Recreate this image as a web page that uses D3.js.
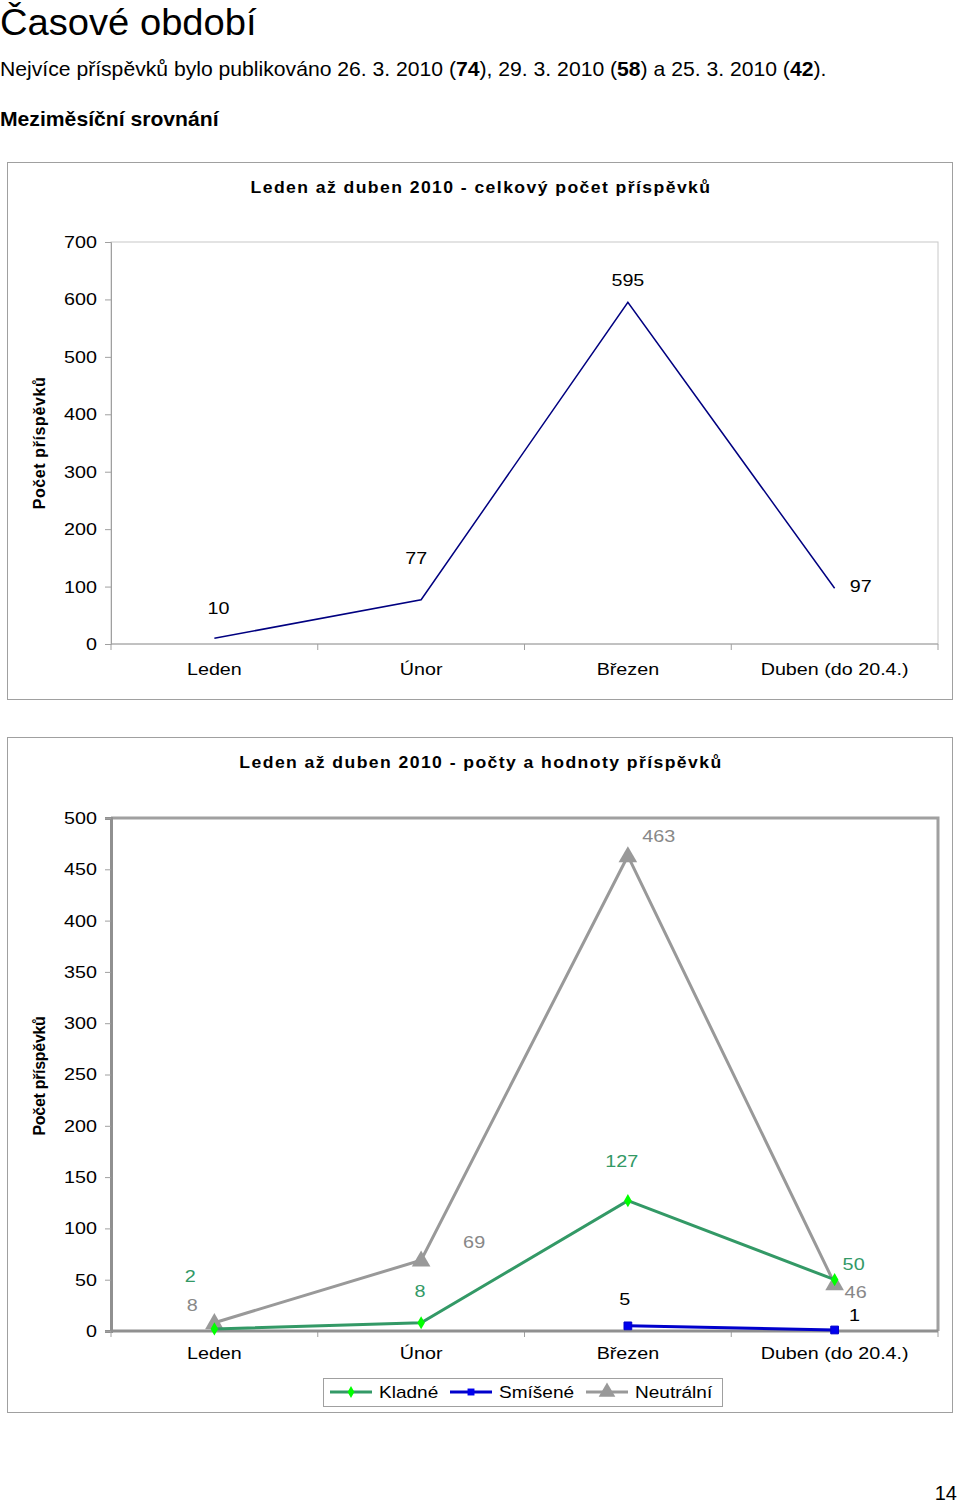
<!DOCTYPE html>
<html>
<head>
<meta charset="utf-8">
<script src="https://cdn.jsdelivr.net/npm/d3@7"></script>
<style>
  body { margin: 0; background: #fff; font-family: Arial, "Liberation Sans", sans-serif; }
  svg text { font-family: Arial, "Liberation Sans", sans-serif; }
</style>
</head>
<body>
<svg id="page" width="960" height="1505"></svg>
<script>
'use strict';

// data
var months = ['Leden', 'Únor', 'Březen', 'Duben (do 20.4.)'];
var total = [10, 77, 595, 97];
var kladne = [2, 8, 127, 50];
var smisene = [null, null, 5, 1];
var neutralni = [8, 69, 463, 46];
var ticks1 = [0, 100, 200, 300, 400, 500, 600, 700];
var ticks2 = [0, 50, 100, 150, 200, 250, 300, 350, 400, 450, 500];

var svg = d3.select('#page');
var sx = 1.16; // chart text in the original is stretched sideways

// page text
svg.append('text').attr('transform', 'scale(1.06,1)').attr('x', 0).attr('y', 35)
  .attr('font-size', 36).text('Časové období');

var intro = svg.append('text').attr('transform', 'scale(1.08,1)')
  .attr('x', 0).attr('y', 76).attr('font-size', 19.6);
[['Nejvíce příspěvků bylo publikováno 26. 3. 2010 (', false], ['74', true], ['), 29. 3. 2010 (', false],
 ['58', true], [') a 25. 3. 2010 (', false], ['42', true], [').', false]].forEach(function(p) {
  intro.append('tspan').attr('font-weight', p[1] ? 'bold' : 'normal').text(p[0]);
});

svg.append('text').attr('transform', 'scale(1.08,1)').attr('x', 0).attr('y', 126)
  .attr('font-size', 19.6).attr('font-weight', 'bold').text('Meziměsíční srovnání');

svg.append('text').attr('x', 957).attr('y', 1500).attr('font-size', 20)
  .attr('text-anchor', 'end').text('14');

function frame(top, bottom) {
  svg.append('rect').attr('x', 7.5).attr('y', top + 0.5)
    .attr('width', 945).attr('height', bottom - top)
    .attr('fill', 'none').attr('stroke', '#a0a0a0').attr('stroke-width', 1);
}

function yTitle(cy, spacing) {
  svg.append('text')
    .attr('transform', 'translate(45,' + cy + ') rotate(-90)')
    .attr('text-anchor', 'middle').attr('font-size', 16).attr('font-weight', 'bold')
    .attr('letter-spacing', spacing)
    .text('Počet příspěvků');
}

function chartTitle(y, txt) {
  svg.append('text').attr('transform', 'translate(481,' + y + ') scale(1.1,1)')
    .attr('text-anchor', 'middle').attr('font-size', 16).attr('font-weight', 'bold')
    .attr('letter-spacing', 1.3).text(txt);
}

function setupAxes(g, x, y, h, ticks, axisColor, axisWidth, catPad) {
  var ya = g.append('g').call(d3.axisLeft(y).tickValues(ticks).tickSize(6).tickPadding(8));
  ya.select('.domain').attr('stroke', axisColor).attr('stroke-width', axisWidth);
  ya.selectAll('.tick line').attr('stroke', '#a0a0a0');
  ya.selectAll('.tick text').attr('font-size', 17).attr('fill', '#000')
    .attr('x', -14 / sx).attr('transform', 'scale(' + sx + ',1)')
    .attr('font-family', 'Arial, "Liberation Sans", sans-serif');

  var xa = g.append('g').attr('transform', 'translate(0,' + h + ')')
    .call(d3.axisBottom(x).tickSize(0).tickPadding(catPad));
  xa.select('.domain').remove();
  xa.selectAll('.tick text').attr('font-size', 17).attr('fill', '#000')
    .attr('transform', 'scale(' + sx + ',1)')
    .attr('font-family', 'Arial, "Liberation Sans", sans-serif');

  // category separators
  var edges = x.domain().map(function(d) { return x(d); });
  edges.push(x.range()[1]);
  g.selectAll('.sep').data(edges).enter().append('line')
    .attr('x1', function(d) { return d; }).attr('x2', function(d) { return d; })
    .attr('y1', h).attr('y2', h + 6).attr('stroke', '#a0a0a0');
  g.append('line').attr('x1', 0).attr('x2', x.range()[1]).attr('y1', h).attr('y2', h)
    .attr('stroke', axisColor).attr('stroke-width', axisWidth);
}

// ---------- chart 1 ----------
frame(162, 699);
chartTitle(193, 'Leden až duben 2010 - celkový počet příspěvků');
yTitle(443, 0.6);

var w = 827, h1 = 402;
var g1 = svg.append('g').attr('transform', 'translate(111,242)');
var x1 = d3.scaleBand().domain(months).range([0, w]);
var y1 = d3.scaleLinear().domain([0, 700]).range([h1, 0]);

g1.append('rect').attr('width', w).attr('height', h1)
  .attr('fill', 'none').attr('stroke', '#c8c8c8');
setupAxes(g1, x1, y1, h1, ticks1, '#a0a0a0', 1, 19);

var cx1 = function(d, i) { return x1(months[i]) + x1.bandwidth() / 2; };
g1.append('path').datum(total)
  .attr('fill', 'none').attr('stroke', '#000080').attr('stroke-width', 1.5)
  .attr('d', d3.line().x(cx1).y(function(d) { return y1(d); }));

var lab1 = [[4, -24], [-5, -36], [0, -16], [26, 4]];
g1.selectAll('.lab').data(total).enter().append('text')
  .attr('transform', function(d, i) {
    return 'translate(' + (cx1(d, i) + lab1[i][0]) + ',' + (y1(d) + lab1[i][1]) + ') scale(' + sx + ',1)';
  })
  .attr('text-anchor', 'middle').attr('font-size', 17)
  .text(function(d) { return d; });

// ---------- chart 2 ----------
frame(737, 1412);
chartTitle(768, 'Leden až duben 2010 - počty a hodnoty příspěvků');
yTitle(1076, -0.3);

var h2 = 513;
var g2 = svg.append('g').attr('transform', 'translate(111,818)');
var x2 = d3.scaleBand().domain(months).range([0, w]);
var y2 = d3.scaleLinear().domain([0, 500]).range([h2, 0]);

g2.append('path').attr('d', 'M0,0H' + w + 'V' + h2)
  .attr('fill', 'none').attr('stroke', '#a0a0a0').attr('stroke-width', 3);
setupAxes(g2, x2, y2, h2, ticks2, '#909090', 3, 16);

var cx2 = function(i) { return x2(months[i]) + x2.bandwidth() / 2; };

var series = [
  {name: 'Kladné', values: kladne, line: '#339966', marker: '#00ff00', shape: d3.symbolDiamond, size: 50, lab: '#339966',
   off: [[-24, -47], [-1, -26], [-6, -34], [19, -10]]},
  {name: 'Smíšené', values: smisene, line: '#0000cc', marker: '#0000ee', shape: d3.symbolSquare, size: 60, lab: '#000',
   off: [null, null, [-3, -21], [20, -9]]},
  {name: 'Neutrální', values: neutralni, line: '#999999', marker: '#999999', shape: d3.symbolTriangle, size: 150, lab: '#888',
   off: [[-22, -12], [53, -12], [31, -14], [21, 14]]}
];

var drawOrder = [2, 0, 1];
drawOrder.forEach(function(k) {
  var s = series[k];
  var pts = s.values.map(function(v, i) { return {v: v, i: i}; })
    .filter(function(p) { return p.v !== null; });
  g2.append('path').datum(pts)
    .attr('fill', 'none').attr('stroke', s.line).attr('stroke-width', 3)
    .attr('d', d3.line().x(function(p) { return cx2(p.i); }).y(function(p) { return y2(p.v); }));
  g2.selectAll('.m' + k).data(pts).enter().append('path')
    .attr('transform', function(p) { return 'translate(' + cx2(p.i) + ',' + (y2(p.v) + (k === 2 ? 1 : 0)) + ')'; })
    .attr('d', d3.symbol().type(s.shape).size(s.size))
    .attr('fill', s.marker).attr('stroke', k === 1 ? '#0000cc' : 'none');
  g2.selectAll('.l' + k).data(pts).enter().append('text')
    .attr('transform', function(p) {
      return 'translate(' + (cx2(p.i) + s.off[p.i][0]) + ',' + (y2(p.v) + s.off[p.i][1]) + ') scale(1.2,1)';
    })
    .attr('text-anchor', 'middle').attr('font-size', 16.5).attr('fill', s.lab)
    .text(function(p) { return p.v; });
});

// legend
var lg = svg.append('g').attr('transform', 'translate(323,1378)');
lg.append('rect').attr('x', 0.5).attr('y', 0.5).attr('width', 399).attr('height', 28)
  .attr('fill', '#fff').attr('stroke', '#a0a0a0');
var lx = [7, 127, 263];
series.forEach(function(s, k) {
  var it = lg.append('g').attr('transform', 'translate(' + lx[k] + ',14)');
  it.append('line').attr('x1', 0).attr('x2', 42).attr('stroke', s.line).attr('stroke-width', 3);
  it.append('path').attr('transform', 'translate(21,0)')
    .attr('d', d3.symbol().type(s.shape).size(s.size * 0.8))
    .attr('fill', s.marker);
  it.append('text').attr('transform', 'translate(49,6) scale(1.12,1)').attr('font-size', 17)
    .text(s.name);
});
</script>
</body>
</html>
